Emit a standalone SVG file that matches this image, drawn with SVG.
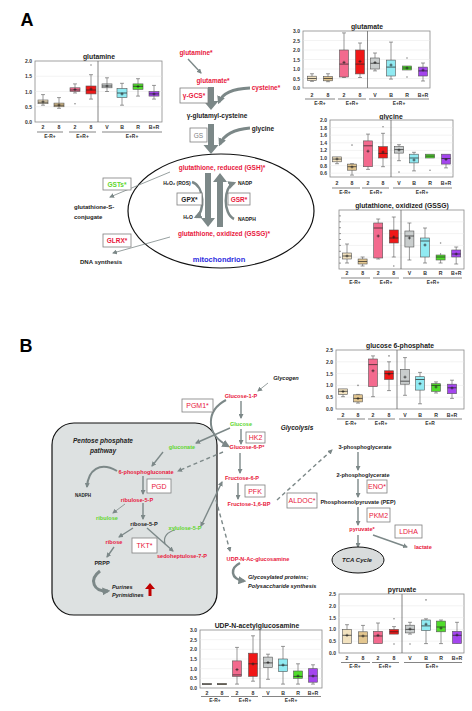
<svg xmlns="http://www.w3.org/2000/svg" width="472" height="711" viewBox="0 0 472 711">
<style>
text{font-family:"Liberation Sans",Arial,sans-serif}
.c{text-anchor:middle;dominant-baseline:central}
.s{text-anchor:start;dominant-baseline:central}
.L{font-size:6.5px;font-weight:bold}
.B{font-size:5.6px;font-weight:bold}
.it{font-style:italic}
.red{fill:#e8173c}.grn{fill:#5ed62c}.blk{fill:#222}
.ttl{font-size:6.8px;font-weight:bold;fill:#222;text-anchor:middle;dominant-baseline:central}
.ax{font-size:5px;font-weight:bold;fill:#333;text-anchor:end;dominant-baseline:central}
.xl{font-size:5.2px;font-weight:bold;fill:#333;text-anchor:middle;dominant-baseline:central}
.gl{font-size:4.9px;font-weight:bold;fill:#333;text-anchor:middle;dominant-baseline:central}
.fr{fill:#fff;stroke:#8a8a8a;stroke-width:0.8}
.dv{stroke:#666;stroke-width:0.8}
.gr{stroke:#e6e6e6;stroke-width:0.5}
.gline{stroke:#333;stroke-width:0.6}
.w{stroke:#555;stroke-width:0.6;fill:none}
.m{stroke:#222;stroke-width:0.7;fill:none}
.o{fill:#888}
rect.k1,rect.k2,rect.k3,rect.k4,rect.k5,rect.k6,rect.k7,rect.k8{stroke:#555;stroke-width:0.6}
.k1{fill:#f2e2bf}.k2{fill:#e3c68f}.k3{fill:#f36a8e}.k4{fill:#f01818}.k5{fill:#c9cdcd}.k6{fill:#90eaf2}.k7{fill:#4fdc2a}.k8{fill:#a445ee}
.enz{fill:#fff;stroke:#7f7f7f;stroke-width:0.8}
.et{font-size:7px;text-anchor:middle;dominant-baseline:central}
.a{stroke:#7c8888;fill:none;stroke-width:1.4;marker-end:url(#ah)}
.t{stroke-width:0.8}
.d{stroke-dasharray:4 3}
.th{stroke:#7c8888;fill:none;stroke-width:3;marker-end:url(#ahL)}
.tk{fill:#7c8888}
</style>
<defs>
<marker id="ah" viewBox="0 0 10 10" refX="8" refY="5" markerWidth="5" markerHeight="5" orient="auto-start-reverse" markerUnits="userSpaceOnUse"><path d="M0,0L10,5L0,10z" fill="#7c8888"/></marker>
<marker id="ahL" viewBox="0 0 10 10" refX="7" refY="5" markerWidth="8" markerHeight="8" orient="auto" markerUnits="userSpaceOnUse"><path d="M0,0L10,5L0,10z" fill="#7c8888"/></marker>
</defs>
<rect width="472" height="711" fill="#fff"/>
<text x="27" y="20" class="c" style="font-size:18px;font-weight:bold">A</text>
<text x="26" y="346" class="c" style="font-size:18px;font-weight:bold">B</text>

<!-- chart glutamine -->
<g id="chart-glutamine">
<text x="99" y="56" class="ttl">glutamine</text>
<rect class="fr" x="35" y="61" width="127" height="61"/>
<path class="gr" d="M35,76.25h127M35,91.5h127M35,106.75h127"/>
<line class="dv" x1="98" y1="61" x2="98" y2="122"/>
<text class="ax" x="32" y="61">2.0</text><text class="ax" x="32" y="76.25">1.5</text><text class="ax" x="32" y="91.5">1.0</text><text class="ax" x="32" y="106.75">0.5</text><text class="ax" x="32" y="122">0.0</text>
<path class="w" d="M43,94.6V105.2M41,94.6h4M41,105.2h4"/><rect class="k1" x="38" y="100" width="10" height="3.7"/><path class="m" d="M38,102.2h10M41.5,101.8h3M43,100.3v3"/>
<path class="w" d="M59,97.6V108.3M57,97.6h4M57,108.3h4"/><rect class="k2" x="54" y="103.1" width="10" height="3.65"/><path class="m" d="M54,105.2h10M57.5,105h3M59,103.5v3"/>
<path class="w" d="M75,83.9V93M73,83.9h4M73,93h4"/><rect class="k3" x="70" y="87.8" width="10" height="3.7"/><path class="m" d="M70,90h10M73.5,89.5h3M75,88v3"/><circle class="o" cx="75" cy="103.7" r="0.8"/>
<path class="w" d="M91,74.7V99.1M89,74.7h4M89,99.1h4"/><rect class="k4" x="86" y="86" width="10" height="7.9"/><path class="m" d="M86,90h10M89.5,89h3M91,87.5v3"/><circle class="o" cx="91" cy="65" r="0.8"/>
<path class="w" d="M107,77.8V91.5M105,77.8h4M105,91.5h4"/><rect class="k5" x="102" y="83.9" width="10" height="3.9"/><path class="m" d="M102,86h10M105.5,86h3M107,84.5v3"/>
<path class="w" d="M122,83.3V105.2M120,83.3h4M120,105.2h4"/><rect class="k6" x="117" y="88.5" width="10" height="9.1"/><path class="m" d="M117,93h10M120.5,94h3M122,92.5v3"/>
<path class="w" d="M138,78.7V96.1M136,78.7h4M136,96.1h4"/><rect class="k7" x="133" y="83.9" width="10" height="5.5"/><path class="m" d="M133,86.3h10M136.5,86.5h3M138,85v3"/>
<path class="w" d="M154,85.4V99.1M152,85.4h4M152,99.1h4"/><rect class="k8" x="149" y="91.5" width="10" height="4.6"/><path class="m" d="M149,93.9h10M152.5,94h3M154,92.5v3"/>
<text class="xl" x="43" y="127">2</text><text class="xl" x="59" y="127">8</text><text class="xl" x="75" y="127">2</text><text class="xl" x="91" y="127">8</text><text class="xl" x="107" y="127">V</text><text class="xl" x="122" y="127">B</text><text class="xl" x="138" y="127">R</text><text class="xl" x="154" y="127">B+R</text>
<path class="gline" d="M37,132h26M69,132h27M102,132h60"/>
<text class="gl" x="50" y="136.5">E-R+</text><text class="gl" x="82.5" y="136.5">E+R+</text><text class="gl" x="132" y="136.5">E+R+</text>
</g>

<!-- chart glutamate -->
<g id="chart-glutamate">
<text x="367" y="26" class="ttl">glutamate</text>
<rect class="fr" x="303" y="31" width="127" height="57"/>
<path class="gr" d="M303,40.5h127M303,50h127M303,59.5h127M303,69h127M303,78.5h127"/>
<line class="dv" x1="367.5" y1="31" x2="367.5" y2="88"/>
<text class="ax" x="300" y="31">3.0</text><text class="ax" x="300" y="40.5">2.5</text><text class="ax" x="300" y="50">2.0</text><text class="ax" x="300" y="59.5">1.5</text><text class="ax" x="300" y="69">1.0</text><text class="ax" x="300" y="78.5">0.5</text><text class="ax" x="300" y="88">0.0</text>
<path class="w" d="M312,73.75V81.35M310,73.75h4M310,81.35h4"/><rect class="k1" x="307.5" y="76.2" width="9" height="4.2"/><path class="m" d="M307.5,78.5h9"/>
<path class="w" d="M328,73.75V81.7M326,73.75h4M326,81.7h4"/><rect class="k2" x="323.5" y="76.6" width="9" height="4.2"/><path class="m" d="M323.5,78.5h9"/>
<path class="w" d="M344,32.9V77.5M342,32.9h4M342,77.5h4"/><rect class="k3" x="339.5" y="50" width="9" height="27"/><path class="m" d="M339.5,64.1h9M342.5,62.35h3M344,60.85v3"/>
<path class="w" d="M360,43V77.5M358,43h4M358,77.5h4"/><rect class="k4" x="355.5" y="50" width="9" height="23.9"/><path class="m" d="M355.5,64.1h9M358.5,61.4h3M360,59.9v3"/>
<path class="w" d="M375,53V70.9M373,53h4M373,70.9h4"/><rect class="k5" x="370.5" y="58" width="9" height="11"/><path class="m" d="M370.5,63.3h9M373.5,62.5h3M375,61v3"/>
<path class="w" d="M391,42.1V79.1M389,42.1h4M389,79.1h4"/><rect class="k6" x="386.5" y="60.1" width="9" height="15.9"/><path class="m" d="M386.5,67.1h9M389.5,65h3M391,63.5v3"/>
<rect class="k7" x="402.5" y="66" width="9" height="4"/><path class="m" d="M402.5,68h9M405.5,68h3M407,66.5v3"/><circle class="o" cx="407" cy="58" r="0.8"/><circle class="o" cx="407" cy="77" r="0.8"/>
<path class="w" d="M423,63V81M421,63h4M421,81h4"/><rect class="k8" x="418.5" y="67.1" width="9" height="8.9"/><path class="m" d="M418.5,70.9h9M421.5,70h3M423,68.5v3"/>
<text class="xl" x="312" y="95">2</text><text class="xl" x="328" y="95">8</text><text class="xl" x="344" y="95">2</text><text class="xl" x="360" y="95">8</text><text class="xl" x="375" y="95">V</text><text class="xl" x="391" y="95">B</text><text class="xl" x="407" y="95">R</text><text class="xl" x="423" y="95">B+R</text>
<path class="gline" d="M305,99h30M338,99h28M369,99h60"/>
<text class="gl" x="320" y="103">E-R+</text><text class="gl" x="352" y="103">E+R+</text><text class="gl" x="399" y="103">E+R+</text>
</g>

<!-- chart glycine -->
<g id="chart-glycine">
<text x="391" y="116" class="ttl">glycine</text>
<rect class="fr" x="330" y="120" width="123" height="57"/>
<path class="gr" d="M330,127.6h123M330,135.2h123M330,142.8h123M330,150.4h123M330,158h123M330,165.6h123M330,173.2h123"/>
<line class="dv" x1="391" y1="120" x2="391" y2="177"/>
<text class="ax" x="327" y="120">2.0</text><text class="ax" x="327" y="127.6">1.8</text><text class="ax" x="327" y="135.2">1.6</text><text class="ax" x="327" y="142.8">1.4</text><text class="ax" x="327" y="150.4">1.2</text><text class="ax" x="327" y="158">1.0</text><text class="ax" x="327" y="165.6">0.8</text><text class="ax" x="327" y="173.2">0.6</text>
<path class="w" d="M337,156.9V163.7M335,163.7h4"/><rect class="k1" x="332.5" y="156.9" width="9" height="4.9"/><path class="m" d="M332.5,159.1h9M335.5,159h3M337,157.5v3"/>
<path class="w" d="M352,163.7V175.1M350,163.7h4M350,175.1h4"/><rect class="k2" x="347.5" y="164.1" width="9" height="6.1"/><path class="m" d="M347.5,166.7h9M350.5,167h3M352,165.5v3"/><circle class="o" cx="352" cy="145.1" r="0.8"/>
<path class="w" d="M368,134.1V169.4M366,134.1h4M366,169.4h4"/><rect class="k3" x="363.5" y="140.9" width="9" height="25.8"/><path class="m" d="M363.5,145.8h9M366.5,151.2h3M368,149.7v3"/>
<path class="w" d="M383,133.3V166.7M381,133.3h4M381,166.7h4"/><rect class="k4" x="378.5" y="146.6" width="9" height="11.4"/><path class="m" d="M378.5,153.4h9M381.5,152h3M383,150.5v3"/><circle class="o" cx="383" cy="126.8" r="0.8"/>
<path class="w" d="M399,144.7V160.7M397,144.7h4M397,160.7h4"/><rect class="k5" x="394.5" y="146.6" width="9" height="6.5"/><path class="m" d="M394.5,149.6h9M397.5,150h3M399,148.5v3"/><circle class="o" cx="399" cy="172.1" r="0.8"/>
<path class="w" d="M414,152.3V170.9M412,152.3h4M412,170.9h4"/><rect class="k6" x="409.5" y="154.2" width="9" height="8.7"/><path class="m" d="M409.5,158h9M412.5,160h3M414,158.5v3"/>
<rect class="k7" x="425.5" y="154.2" width="9" height="3.8"/><path class="m" d="M425.5,156.1h9"/><circle class="o" cx="430" cy="170.2" r="0.8"/>
<path class="w" d="M446,164.1V167.9M444,167.9h4"/><rect class="k8" x="441.5" y="154.2" width="9" height="9.9"/><path class="m" d="M441.5,158.5h9M444.5,159.5h3M446,158v3"/>
<text class="xl" x="337" y="183">2</text><text class="xl" x="352" y="183">8</text><text class="xl" x="368" y="183">2</text><text class="xl" x="383" y="183">8</text><text class="xl" x="399" y="183">V</text><text class="xl" x="414" y="183">B</text><text class="xl" x="430" y="183">R</text><text class="xl" x="446" y="183">B+R</text>
<path class="gline" d="M332,188h28M362,188h27M393,188h59"/>
<text class="gl" x="345" y="192">E-R+</text><text class="gl" x="376" y="192">E+R+</text><text class="gl" x="422" y="192">E+R+</text>
</g>

<!-- chart GSSG -->
<g id="chart-gssg">
<text x="402" y="205" class="ttl">glutathione, oxidized (GSSG)</text>
<rect class="fr" x="339" y="210" width="125" height="59"/>
<path class="gr" d="M339,221.8h125M339,233.6h125M339,245.4h125M339,257.2h125"/>
<path class="w" d="M339,215.9h2M339,221.8h2M339,227.7h2M339,233.6h2M339,239.5h2M339,245.4h2M339,251.3h2M339,257.2h2M339,263.1h2"/>
<line class="dv" x1="401" y1="210" x2="401" y2="269"/>
<path class="w" d="M347,244V263M345,244h4M345,263h4"/><rect class="k1" x="342.5" y="253" width="9" height="6"/><path class="m" d="M342.5,256h9M345.5,256h3M347,254.5v3"/>
<path class="w" d="M362.6,257V266M360.6,257h4M360.6,266h4"/><rect class="k2" x="358.1" y="259" width="9" height="5"/><path class="m" d="M358.1,261.5h9"/>
<path class="w" d="M378.2,219V259M376.2,219h4M376.2,259h4"/><rect class="k3" x="373.7" y="223" width="9" height="35"/><path class="m" d="M373.7,228h9M376.7,236h3M378.2,234.5v3"/>
<path class="w" d="M393.8,217V257M391.8,217h4M391.8,257h4"/><rect class="k4" x="389.3" y="230" width="9" height="13"/><path class="m" d="M389.3,238h9M392.3,237h3M393.8,235.5v3"/><circle class="o" cx="393.8" cy="266" r="0.8"/>
<path class="w" d="M409.4,223V260M407.4,223h4M407.4,260h4"/><rect class="k5" x="404.9" y="231" width="9" height="16"/><path class="m" d="M404.9,236h9M407.9,238h3M409.4,236.5v3"/>
<path class="w" d="M425,228V263M423,228h4M423,263h4"/><rect class="k6" x="420.5" y="238" width="9" height="19"/><path class="m" d="M420.5,241h9M423.5,245h3M425,243.5v3"/>
<path class="w" d="M440.6,253V263M438.6,263h4"/><rect class="k7" x="436.1" y="255" width="9" height="5"/><path class="m" d="M436.1,257h9"/><circle class="o" cx="440.6" cy="243" r="0.8"/>
<path class="w" d="M456.2,247V264M454.2,247h4M454.2,264h4"/><rect class="k8" x="451.7" y="250" width="9" height="7"/><path class="m" d="M451.7,254h9M454.7,254h3M456.2,252.5v3"/>
<text class="xl" x="347" y="273">2</text><text class="xl" x="362.6" y="273">8</text><text class="xl" x="378.2" y="273">2</text><text class="xl" x="393.8" y="273">8</text><text class="xl" x="409.4" y="273">V</text><text class="xl" x="425" y="273">B</text><text class="xl" x="440.6" y="273">R</text><text class="xl" x="456.2" y="273">B+R</text>
<path class="gline" d="M341,278h29M373,278h26M403,278h59"/>
<text class="gl" x="355" y="282.5">E-R+</text><text class="gl" x="386" y="282.5">E+R+</text><text class="gl" x="433" y="282.5">E+R+</text>
</g>

<!-- chart glucose 6-phosphate -->
<g id="chart-g6p">
<text x="400" y="345" class="ttl">glucose 6-phosphate</text>
<rect class="fr" x="336" y="350" width="128" height="59"/>
<path class="gr" d="M336,361.8h128M336,373.6h128M336,385.4h128M336,397.2h128"/>
<line class="dv" x1="397" y1="350" x2="397" y2="409"/>
<text class="ax" x="333" y="350">2.5</text><text class="ax" x="333" y="361.8">2.0</text><text class="ax" x="333" y="373.6">1.5</text><text class="ax" x="333" y="385.4">1.0</text><text class="ax" x="333" y="397.2">0.5</text><text class="ax" x="333" y="409">0.0</text>
<path class="w" d="M343,388.9V396.7M341,396.7h4"/><rect class="k1" x="338.5" y="388.9" width="9" height="5.5"/><path class="m" d="M338.5,391.3h9M341.5,391.5h3M343,390v3"/>
<path class="w" d="M358,394.4V403.1M356,394.4h4M356,403.1h4"/><rect class="k2" x="353.5" y="394.8" width="9" height="7.1"/><path class="m" d="M353.5,398.4h9M356.5,398.5h3M358,397v3"/><circle class="o" cx="358" cy="385.4" r="0.8"/>
<path class="w" d="M373,355.9V396.7M371,355.9h4M371,396.7h4"/><rect class="k3" x="368.5" y="359" width="9" height="27.6"/><path class="m" d="M368.5,364.6h9M371.5,370.8h3M373,369.3v3"/>
<path class="w" d="M389,361.8V390.6M387,361.8h4M387,390.6h4"/><rect class="k4" x="384.5" y="370.8" width="9" height="8.7"/><path class="m" d="M384.5,373.6h9M387.5,374h3M389,372.5v3"/><circle class="o" cx="389" cy="355.9" r="0.8"/>
<path class="w" d="M405,357.6V395.3M403,357.6h4M403,395.3h4"/><rect class="k5" x="400.5" y="369.4" width="9" height="14.8"/><path class="m" d="M400.5,381.2h9M403.5,377.1h3M405,375.6v3"/>
<path class="w" d="M420,372.4V403.8M418,372.4h4M418,403.8h4"/><rect class="k6" x="415.5" y="376.7" width="9" height="13.4"/><path class="m" d="M415.5,379.5h9M418.5,383.7h3M420,382.2v3"/>
<path class="w" d="M436,381.9V393M434,381.9h4M434,393h4"/><rect class="k7" x="431.5" y="383.7" width="9" height="7.6"/><path class="m" d="M431.5,385.4h9M434.5,387h3M436,385.5v3"/>
<path class="w" d="M452,380.2V398.4M450,380.2h4M450,398.4h4"/><rect class="k8" x="447.5" y="384.2" width="9" height="9.5"/><path class="m" d="M447.5,387.8h9M450.5,388h3M452,386.5v3"/>
<text class="xl" x="343" y="415">2</text><text class="xl" x="358" y="415">8</text><text class="xl" x="373" y="415">2</text><text class="xl" x="389" y="415">8</text><text class="xl" x="405" y="415">V</text><text class="xl" x="420" y="415">B</text><text class="xl" x="436" y="415">R</text><text class="xl" x="452" y="415">B+R</text>
<path class="gline" d="M337,419h28M368,419h27M399,419h63"/>
<text class="gl" x="351" y="423">E-R+</text><text class="gl" x="381" y="423">E+R+</text><text class="gl" x="430" y="423">E+R</text>
</g>

<!-- chart pyruvate -->
<g id="chart-pyruvate">
<text x="402" y="589" class="ttl">pyruvate</text>
<rect class="fr" x="339" y="594" width="125" height="59"/>
<path class="gr" d="M339,605.8h125M339,617.6h125M339,629.4h125M339,641.2h125"/>
<line class="dv" x1="402" y1="594" x2="402" y2="653"/>
<text class="ax" x="336" y="594">2.5</text><text class="ax" x="336" y="605.8">2.0</text><text class="ax" x="336" y="617.6">1.5</text><text class="ax" x="336" y="629.4">1.0</text><text class="ax" x="336" y="641.2">0.5</text><text class="ax" x="336" y="653">0.0</text>
<path class="w" d="M347,624.7V643.6M345,624.7h4"/><rect class="k1" x="342.5" y="629.4" width="9" height="14.2"/><path class="m" d="M342.5,635.3h9M345.5,635.3h3M347,633.8v3"/>
<path class="w" d="M363,625.4V643.6M361,625.4h4"/><rect class="k2" x="358.5" y="631.8" width="9" height="11.8"/><path class="m" d="M358.5,636h9M361.5,636h3M363,634.5v3"/>
<path class="w" d="M378,623V643.6M376,623h4"/><rect class="k3" x="373.5" y="631.3" width="9" height="12.3"/><path class="m" d="M373.5,636h9M376.5,635.3h3M378,633.8v3"/>
<path class="w" d="M394,626.6V634.1M392,626.6h4"/><rect class="k4" x="389.5" y="629.4" width="9" height="4.7"/><path class="m" d="M389.5,631.8h9"/><circle class="o" cx="394" cy="618.8" r="0.8"/><circle class="o" cx="394" cy="644" r="0.8"/>
<path class="w" d="M410,622.3V634.1M408,622.3h4M408,634.1h4"/><rect class="k5" x="405.5" y="625.2" width="9" height="7.7"/><path class="m" d="M405.5,629.4h9M408.5,629h3M410,627.5v3"/><circle class="o" cx="410" cy="644" r="0.8"/>
<path class="w" d="M426,618.8V643.6M424,618.8h4M424,643.6h4"/><rect class="k6" x="421.5" y="620" width="9" height="10.6"/><path class="m" d="M421.5,625.9h9M424.5,624.2h3M426,622.7v3"/><circle class="o" cx="426" cy="599.9" r="0.8"/>
<path class="w" d="M441,620V643.6M439,620h4M439,643.6h4"/><rect class="k7" x="436.5" y="621.1" width="9" height="10.7"/><path class="m" d="M436.5,627h9M439.5,628.2h3M441,626.7v3"/>
<path class="w" d="M457,622.3V643.6M455,622.3h4"/><rect class="k8" x="452.5" y="631.3" width="9" height="12.3"/><path class="m" d="M452.5,635.3h9M455.5,635h3M457,633.5v3"/>
<text class="xl" x="347" y="658">2</text><text class="xl" x="363" y="658">8</text><text class="xl" x="378" y="658">2</text><text class="xl" x="394" y="658">8</text><text class="xl" x="410" y="658">V</text><text class="xl" x="426" y="658">B</text><text class="xl" x="441" y="658">R</text><text class="xl" x="457" y="658">B+R</text>
<path class="gline" d="M341,662.5h29M372,662.5h27M404,662.5h58"/>
<text class="gl" x="355" y="666.5">E-R+</text><text class="gl" x="385" y="666.5">E+R+</text><text class="gl" x="432" y="666.5">E+R+</text>
</g>

<!-- chart UDP -->
<g id="chart-udp">
<text x="257" y="625" class="ttl">UDP-N-acetylglucosamine</text>
<rect class="fr" x="200" y="630" width="122" height="58"/>
<path class="gr" d="M200,639.7h122M200,649.3h122M200,659h122M200,668.7h122M200,678.3h122"/>
<line class="dv" x1="260" y1="630" x2="260" y2="688"/>
<text class="ax" x="197" y="630">3.0</text><text class="ax" x="197" y="639.7">2.5</text><text class="ax" x="197" y="649.3">2.0</text><text class="ax" x="197" y="659">1.5</text><text class="ax" x="197" y="668.7">1.0</text><text class="ax" x="197" y="678.3">0.5</text><text class="ax" x="197" y="688">0.0</text>
<rect class="k1" x="202.5" y="683.5" width="9" height="1.2"/><path class="m" d="M202.5,684.1h9"/>
<rect class="k2" x="217.5" y="683.5" width="9" height="1.2"/><path class="m" d="M217.5,684.1h9"/>
<path class="w" d="M237,647.4V684.1M235,647.4h4M235,684.1h4"/><rect class="k3" x="232.5" y="660.9" width="9" height="15.5"/><path class="m" d="M232.5,674.9h9M235.5,669.6h3M237,668.1v3"/>
<path class="w" d="M253,635.8V681.2M251,635.8h4M251,681.2h4"/><rect class="k4" x="248.5" y="653.2" width="9" height="23.2"/><path class="m" d="M248.5,663.8h9M251.5,664h3M253,662.5v3"/>
<path class="w" d="M268,654.2V679.3M266,654.2h4M266,679.3h4"/><rect class="k5" x="263.5" y="657.1" width="9" height="10.6"/><path class="m" d="M263.5,662.9h9M266.5,662.5h3M268,661v3"/>
<path class="w" d="M283,646.4V684.1M281,646.4h4M281,684.1h4"/><rect class="k6" x="278.5" y="659" width="9" height="12.6"/><path class="m" d="M278.5,665.2h9M281.5,665h3M283,663.5v3"/>
<path class="w" d="M298,663.8V684.1M296,663.8h4M296,684.1h4"/><rect class="k7" x="293.5" y="671" width="9" height="7.3"/><path class="m" d="M293.5,676.4h9M296.5,676h3M298,674.5v3"/>
<path class="w" d="M313,664.8V684.1M311,664.8h4M311,684.1h4"/><rect class="k8" x="308.5" y="668.7" width="9" height="13.5"/><path class="m" d="M308.5,676h9M311.5,676h3M313,674.5v3"/>
<text class="xl" x="207" y="693">2</text><text class="xl" x="222" y="693">8</text><text class="xl" x="237" y="693">2</text><text class="xl" x="253" y="693">8</text><text class="xl" x="268" y="693">V</text><text class="xl" x="283" y="693">B</text><text class="xl" x="298" y="693">R</text><text class="xl" x="313" y="693">B+R</text>
<path class="gline" d="M201,696.5h28M231,696.5h27M262,696.5h59"/>
<text class="gl" x="215" y="700.5">E-R+</text><text class="gl" x="245" y="700.5">E+R+</text><text class="gl" x="291" y="700.5">E+R+</text>
</g>

<!-- Panel backgrounds -->
<ellipse id="mitochondrion-shape" cx="221" cy="211" rx="93" ry="57" fill="none" stroke="#111" stroke-width="1.2"/>
<rect id="ppp-shape" x="52" y="423" width="165" height="192" rx="22" fill="#dde1e1" stroke="#111" stroke-width="1.2"/>

<!-- connectors -->
<g id="connectors">
<path class="a" d="M188,59L201,73"/>
<polygon class="tk" points="208,87 214,87 214,101 218.5,101 211,110 203.5,101 208,101"/>
<path class="th" d="M250,88Q224,89 219,102"/>
<polygon class="tk" points="208,124 214,124 214,145 218.5,145 211,154 203.5,145 208,145"/>
<path class="th" d="M250,128Q226,130 220,144"/>
<polygon class="tk" points="205,173 211,173 211,218 215,218 208,227 201,218 205,218"/>
<polygon class="tk" points="217,227 223,227 223,182 227,182 220,173 213,182 217,182"/>
<path class="th" style="stroke-width:2.5" d="M192,182C205,186 205,213 196,217"/>
<path class="th" style="stroke-width:2.5" d="M234,219C223,214 223,187 234,183"/>
<path class="a t" d="M170,172L110,197"/>
<path class="a t" d="M170,237L113,253"/>

<path class="a t" d="M268,383L258,391"/>
<path class="a" d="M241,401L241,418"/>
<path class="a" d="M241,429L241,444"/>
<path class="th" style="stroke-width:2" d="M226,400C207,410 204,433 228,446"/>
<path class="a" d="M230,428L196,443"/>
<path class="a" d="M163,452L152,466"/>
<path class="a d" d="M223,452L178,471"/>
<path class="a" style="stroke-width:2" d="M117,471C100,461 88,470 87,487"/>
<path class="a" d="M143,476L143,494"/>
<path class="a t" d="M125,504L113,513"/>
<path class="a" d="M143,503L143,519"/>
<path class="a" d="M133,528L119,537"/>
<path class="a" d="M114,547L107,557"/>
<path class="a" d="M147,528L173,551"/>
<path class="w" style="stroke:#7c8888;stroke-width:1.2" d="M175,530C167,532 163,537 165,544"/>
<path class="a" style="marker-start:url(#ah)" d="M201,526L222,482"/>
<path class="th" style="stroke-width:3" d="M100,571C88,580 94,592 108,591"/>
<path class="a" d="M240,453L240,473"/>
<path class="a" d="M238,483L238,499"/>
<path class="a d" d="M216,500L230,551"/>
<path class="a d" d="M277,500L332,450"/>
<path class="a" d="M358,452L358,470"/>
<path class="a" d="M358,479L358,497"/>
<path class="a" d="M358,507L358,525"/>
<path class="a" d="M373,535L407,547"/>
<path class="a" d="M358,535L358,547"/>
<path class="th" style="stroke-width:2.5" d="M240,563C230,568 230,579 244,581"/>
</g>

<!-- Panel A nodes -->
<g id="n-glutamine"><text x="196" y="52" class="c L red">glutamine*</text></g>
<g id="n-glutamate"><text x="213" y="80" class="c L red">glutamate*</text></g>
<g id="n-cysteine"><text x="266" y="87" class="c L red">cysteine*</text></g>
<g id="n-ggcs"><rect class="enz" x="180" y="88" width="28" height="15"/><text x="194" y="95.5" class="c L red">γ-GCS*</text></g>
<g id="n-gglucys"><text x="217" y="115" class="c L blk">γ-glutamyl-cysteine</text></g>
<g id="n-gs"><rect class="enz" x="190" y="128" width="17" height="14"/><text x="198.5" y="135" class="et" style="fill:#808080;font-size:6.5px">GS</text></g>
<g id="n-glycine"><text x="263" y="128" class="c L blk">glycine</text></g>
<g id="n-gsh"><text x="222" y="167" class="c L red">glutathione, reduced (GSH)*</text></g>
<g id="n-h2o2"><text x="177" y="183" class="c blk" style="font-size:5px;font-weight:bold">H₂O₂ (ROS)</text></g>
<g id="n-nadp"><text x="238" y="183" class="s blk" style="font-size:5px;font-weight:bold">NADP</text></g>
<g id="n-gpx"><rect class="enz" x="177" y="193" width="25" height="12"/><text x="189.5" y="199" class="c L blk">GPX*</text></g>
<g id="n-gsr"><rect class="enz" x="228" y="193" width="22" height="12"/><text x="239" y="199" class="c L red">GSR*</text></g>
<g id="n-h2o"><text x="188" y="217" class="c blk" style="font-size:5px;font-weight:bold">H₂O</text></g>
<g id="n-nadph"><text x="238" y="219" class="s blk" style="font-size:5px;font-weight:bold">NADPH</text></g>
<g id="n-gssg"><text x="224" y="233" class="c L red">glutathione, oxidized (GSSG)*</text></g>
<g id="n-mito"><text x="219" y="259" class="c" style="font-size:7.5px;font-weight:bold;fill:#2a2ae0">mitochondrion</text></g>
<g id="n-gsts"><rect class="enz" x="103" y="178" width="28" height="12"/><text x="117" y="184" class="c L grn">GSTs*</text></g>
<g id="n-gsconj"><text x="74" y="207" class="s blk" style="font-size:6px;font-weight:bold">glutathione-S-</text><text x="74" y="217" class="s blk" style="font-size:6px;font-weight:bold">conjugate</text></g>
<g id="n-glrx"><rect class="enz" x="103" y="234" width="28" height="13"/><text x="117" y="240.5" class="c L red">GLRX*</text></g>
<g id="n-dna"><text x="80" y="262" class="s blk" style="font-size:6px;font-weight:bold">DNA synthesis</text></g>

<!-- Panel B nodes -->
<g id="n-glycogen"><text x="286" y="378" class="c B it blk">Glycogen</text></g>
<g id="n-g1p"><text x="241" y="396" class="c B red">Glucose-1-P</text></g>
<g id="n-pgm1"><rect class="enz" x="182" y="399" width="31" height="13"/><text x="197.5" y="405.5" class="et red">PGM1*</text></g>
<g id="n-glucose"><text x="241" y="424" class="c B grn">Glucose</text></g>
<g id="n-glycolysis"><text x="297" y="427" class="c it blk" style="font-size:6.5px;font-weight:bold">Glycolysis</text></g>
<g id="n-hk2"><rect class="enz" x="246" y="432" width="19" height="11"/><text x="255.5" y="437.5" class="et red">HK2</text></g>
<g id="n-g6p"><text x="247" y="447" class="c B red">Glucose-6-P*</text></g>
<g id="n-ppp"><text x="103" y="440" class="c it blk" style="font-size:6.5px;font-weight:bold">Pentose phosphate</text><text x="103" y="450" class="c it blk" style="font-size:6.5px;font-weight:bold">pathway</text></g>
<g id="n-gluconate"><text x="182" y="447" class="c B grn">gluconate</text></g>
<g id="n-6pg"><text x="146" y="472" class="c B red">6-phosphogluconate</text></g>
<g id="n-nadphb"><text x="83" y="495" class="c blk" style="font-size:4.5px;font-weight:bold">NADPH</text></g>
<g id="n-pgd"><rect class="enz" x="147" y="479" width="24" height="14"/><text x="159" y="486" class="et red">PGD</text></g>
<g id="n-ru5p"><text x="137" y="500" class="c B red">ribulose-5-P</text></g>
<g id="n-ribulose"><text x="107" y="518" class="c B grn">ribulose</text></g>
<g id="n-r5p"><text x="144" y="524" class="c B blk">ribose-5-P</text></g>
<g id="n-ribose"><text x="114" y="542" class="c B red">ribose</text></g>
<g id="n-tkt"><rect class="enz" x="132" y="538" width="25" height="15"/><text x="144.5" y="545.5" class="et red">TKT*</text></g>
<g id="n-xu5p"><text x="185" y="528" class="c B grn">xylulose-5-P</text></g>
<g id="n-s7p"><text x="182" y="556" class="c B red">sedoheptulose-7-P</text></g>
<g id="n-prpp"><text x="102" y="563" class="c B blk">PRPP</text></g>
<g id="n-purines"><text x="112" y="587" class="s B it blk">Purines</text><text x="112" y="595" class="s B it blk">Pyrimidines</text><polygon points="148.5,596 151.5,596 151.5,589 155,589 150,583 145,589 148.5,589" fill="#c00000"/></g>
<g id="n-f6p"><text x="242" y="478" class="c B red">Fructose-6-P</text></g>
<g id="n-pfk"><rect class="enz" x="245" y="485" width="20" height="12"/><text x="255" y="491" class="et red">PFK</text></g>
<g id="n-f16bp"><text x="249" y="504" class="c B red">Fructose-1,6-BP</text></g>
<g id="n-aldoc"><rect class="enz" x="287" y="493" width="30" height="15"/><text x="302" y="500.5" class="et red">ALDOC*</text></g>
<g id="n-3pg"><text x="365" y="447" class="c B blk">3-phosphoglycerate</text></g>
<g id="n-2pg"><text x="363" y="475" class="c B blk">2-phosphoglycerate</text></g>
<g id="n-eno"><rect class="enz" x="367" y="480" width="20" height="13"/><text x="377" y="486.5" class="et red">ENO*</text></g>
<g id="n-pep"><text x="358" y="502" class="c B blk">Phosphoenolpyruvate (PEP)</text></g>
<g id="n-pkm2"><rect class="enz" x="367" y="508" width="23" height="14"/><text x="378.5" y="515" class="et red">PKM2</text></g>
<g id="n-pyruvate"><text x="362" y="529" class="c B red">pyruvate*</text></g>
<g id="n-ldha"><rect class="enz" x="395" y="525" width="27" height="13"/><text x="408.5" y="531.5" class="et red">LDHA</text></g>
<g id="n-lactate"><text x="423" y="547" class="c B red">lactate</text></g>
<g id="n-tca"><ellipse cx="358" cy="560" rx="26" ry="13" fill="#d9dcdc" stroke="#111" stroke-width="1"/><text x="357" y="560" class="c it blk" style="font-size:6px;font-weight:bold">TCA Cycle</text></g>
<g id="n-udp"><text x="258" y="559" class="c B red">UDP-N-Ac-glucosamine</text></g>
<g id="n-glyco"><text x="248" y="577" class="s B it blk">Glycosylated proteins;</text><text x="248" y="586" class="s B it blk">Polysaccharide synthesis</text></g>
</svg>
